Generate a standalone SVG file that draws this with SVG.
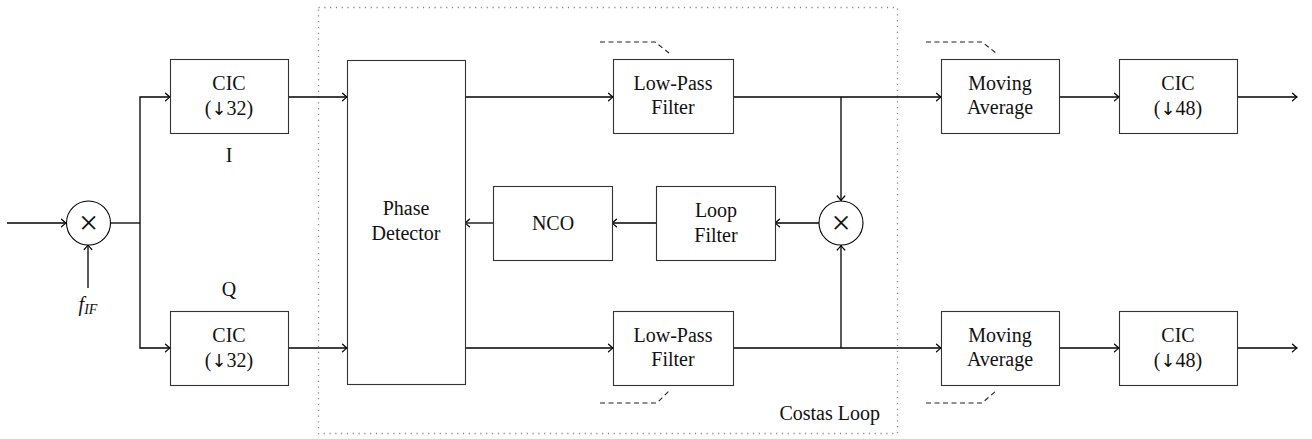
<svg xmlns="http://www.w3.org/2000/svg" width="1312" height="439" viewBox="0 0 1312 439">
<defs>
<marker id="arr" markerWidth="10" markerHeight="10" refX="0" refY="0" viewBox="-6 -5 8 10" orient="auto" markerUnits="userSpaceOnUse">
<path d="M -4.5,-3.8 Q -1.2,-0.8 0,0 Q -1.2,0.8 -4.5,3.8" fill="none" stroke="#000" stroke-width="1.2" stroke-linecap="round"/>
</marker>
</defs>
<style>
.box{fill:#fff;stroke:#333;stroke-width:1.1}
.ln{fill:none;stroke:#000;stroke-width:1.3}
.ar{fill:none;stroke:#000;stroke-width:1.3;marker-end:url(#arr)}
.dash{fill:none;stroke:#222;stroke-width:1.1;stroke-dasharray:5 3.5}
.dot{fill:none;stroke:#888;stroke-width:1.3;stroke-dasharray:1.2 4.6}
text{font-family:"Liberation Serif","Times New Roman",serif;font-size:20px;fill:#111;text-anchor:middle}
.x{font-family:"Liberation Serif","Times New Roman",serif;font-size:34px}
.da{font-family:"DejaVu Sans",sans-serif;font-size:18px}
</style>
<rect class="dot" x="318.5" y="7.5" width="579" height="426"/>
<text x="880" y="420" style="text-anchor:end">Costas Loop</text>
<g id="connectors">
<path class="ar" d="M7,223 H66"/>
<path class="ar" d="M88,288 V245"/>
<path class="ln" d="M110,223 H140"/>
<path class="ar" d="M140,223 V97 H170"/>
<path class="ar" d="M140,223 V348 H170"/>
<path class="ar" d="M288,97 H347"/>
<path class="ar" d="M288,348 H347"/>
<path class="ar" d="M465,97 H613"/>
<path class="ar" d="M465,348 H613"/>
<path class="ar" d="M733,97 H941"/>
<path class="ar" d="M733,348 H941"/>
<path class="ar" d="M841,97 V200.5"/>
<path class="ar" d="M841,348 V245.5"/>
<path class="ar" d="M819,223 H775"/>
<path class="ar" d="M656,223 H612"/>
<path class="ar" d="M493,223 H465"/>
<path class="ar" d="M1059,97 H1119"/>
<path class="ar" d="M1059,348 H1119"/>
<path class="ar" d="M1237,97 H1297"/>
<path class="ar" d="M1237,348 H1297"/>
<path class="dash" d="M600,42 H655 L669,53"/>
<path class="dash" d="M926,42 H982 L996,53"/>
<path class="dash" d="M600,403 H657 L669,391"/>
<path class="dash" d="M926,403 H982 L996,391"/>
</g>
<g id="mix1">
<circle cx="88.5" cy="223" r="22" fill="#fff" stroke="#000" stroke-width="1.1"/>
<text class="x" x="88.5" y="234">×</text>
</g>
<g id="fif">
<text x="88" y="311" style="font-style:italic;font-size:20px">f<tspan font-size="14" dy="3">IF</tspan></text>
</g>
<g id="cic1">
<rect class="box" x="170.5" y="59.5" width="118" height="74"/>
<text x="229" y="90">CIC</text>
<text x="229" y="115">(<tspan class="da">↓</tspan>32)</text>
</g>
<text id="labI" x="229" y="162">I</text>
<text id="labQ" x="229" y="296">Q</text>
<g id="cic2">
<rect class="box" x="170.5" y="311.5" width="118" height="74"/>
<text x="229" y="342">CIC</text>
<text x="229" y="367">(<tspan class="da">↓</tspan>32)</text>
</g>
<g id="pd">
<rect class="box" x="347.5" y="60.5" width="118" height="324"/>
<text x="406" y="215">Phase</text>
<text x="406" y="240">Detector</text>
</g>
<g id="lpf1">
<rect class="box" x="613.5" y="59.5" width="120" height="74"/>
<text x="673" y="90">Low-Pass</text>
<text x="673" y="114">Filter</text>
</g>
<g id="lpf2">
<rect class="box" x="613.5" y="311.5" width="120" height="74"/>
<text x="673" y="342">Low-Pass</text>
<text x="673" y="366">Filter</text>
</g>
<g id="nco">
<rect class="box" x="493.5" y="186.5" width="119" height="74"/>
<text x="553" y="230">NCO</text>
</g>
<g id="loopfilter">
<rect class="box" x="656.5" y="186.5" width="119" height="74"/>
<text x="716" y="217">Loop</text>
<text x="716" y="242">Filter</text>
</g>
<g id="mix2">
<circle cx="841" cy="223" r="22" fill="#fff" stroke="#000" stroke-width="1.1"/>
<text class="x" x="841" y="234">×</text>
</g>
<g id="ma1">
<rect class="box" x="941.5" y="59.5" width="118" height="74"/>
<text x="1000" y="90">Moving</text>
<text x="1000" y="114">Average</text>
</g>
<g id="ma2">
<rect class="box" x="941.5" y="311.5" width="118" height="74"/>
<text x="1000" y="342">Moving</text>
<text x="1000" y="366">Average</text>
</g>
<g id="cic3">
<rect class="box" x="1119.5" y="59.5" width="118" height="74"/>
<text x="1178" y="90">CIC</text>
<text x="1178" y="115">(<tspan class="da">↓</tspan>48)</text>
</g>
<g id="cic4">
<rect class="box" x="1119.5" y="311.5" width="118" height="74"/>
<text x="1178" y="342">CIC</text>
<text x="1178" y="367">(<tspan class="da">↓</tspan>48)</text>
</g>
</svg>
